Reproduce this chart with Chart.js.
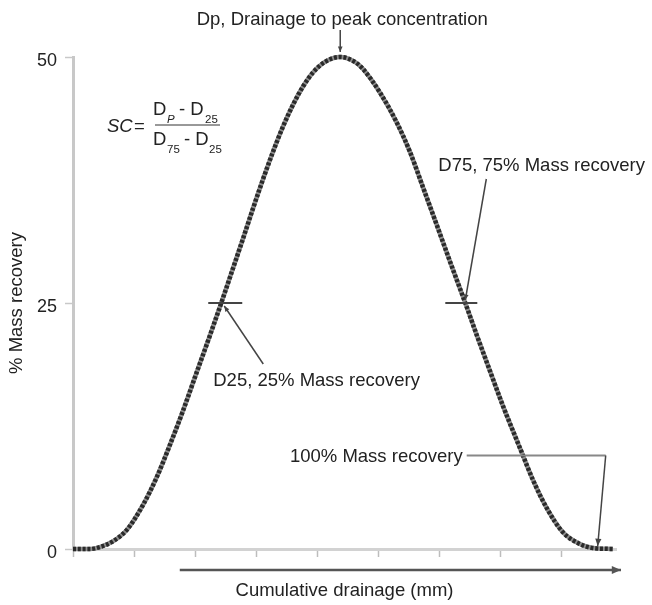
<!DOCTYPE html>
<html lang="en">
<head>
    <meta charset="UTF-8"/>
    <title>Mass Recovery Curve</title>
    <script src="https://cdn.jsdelivr.net/npm/chart.js"></script>
    <style>
        html, body {
            margin: 0;
            padding: 0;
            background-color: #fff;
        }
        .chart-box {
            width: 652px;
            height: 605px;
        }
    </style>
</head>
<body>
<div class="chart-box">
    <canvas id="massChart" width="652" height="605"></canvas>
</div>

<script>
    // cumulative drainage in tick units (one unit per x tick) and % mass recovery
    const drainage = [0.00, 0.28, 0.44, 0.66, 0.89, 1.15, 1.38, 1.59, 1.80, 2.03,
                      2.25, 2.43, 2.61, 2.79, 2.95, 3.11, 3.28, 3.44, 3.61, 3.77,
                      3.93, 4.13, 4.38, 4.62, 4.75, 5.03, 5.31, 5.52, 5.74, 5.97,
                      6.18, 6.43, 6.62, 6.84, 7.05, 7.33, 7.54, 7.77, 8.03, 8.31,
                      8.52, 8.85];
    const massRecovery = [0, 0, 0.2, 0.8, 2.0, 4.5, 7.4, 10.6, 14.0, 18.0,
                          21.8, 25.0, 28.3, 31.6, 34.6, 37.5, 40.4, 42.9, 45.2, 47.0,
                          48.4, 49.5, 50.0, 49.5, 48.8, 46.4, 43.3, 40.4, 36.7, 32.8,
                          29.2, 25.0, 21.7, 18.0, 14.5, 10.2, 7.0, 4.1, 1.7, 0.5,
                          0.1, 0];
    const yTickValues = [0, 25, 50];

    // annotation anchors (data units)
    const peakX = 4.38;   // Dp
    const d25X = 2.43;
    const d75X = 6.43;
    const fullX = 8.6;    // 100% recovery
    const fullLevel = 9.5;

    const FONT = '"Liberation Sans", Arial, Helvetica, sans-serif';
    const TEXT = '#222';

    const points = drainage.map((d, i) => ({x: d, y: massRecovery[i]}));

    function arrow(ctx, x1, y1, x2, y2, size) {
        ctx.beginPath();
        ctx.moveTo(x1, y1);
        ctx.lineTo(x2, y2);
        ctx.stroke();
        const a = Math.atan2(y2 - y1, x2 - x1);
        ctx.beginPath();
        ctx.moveTo(x2, y2);
        ctx.lineTo(x2 - size * Math.cos(a - 0.4), y2 - size * Math.sin(a - 0.4));
        ctx.lineTo(x2 - size * Math.cos(a + 0.4), y2 - size * Math.sin(a + 0.4));
        ctx.closePath();
        ctx.fill();
    }

    const annotations = {
        id: 'annotations',
        afterDraw(chart) {
            const ctx = chart.ctx;
            const xs = chart.scales.x, ys = chart.scales.y;
            const px = v => xs.getPixelForValue(v);
            const py = v => ys.getPixelForValue(v);
            const area = chart.chartArea;

            ctx.save();
            ctx.fillStyle = TEXT;
            ctx.textBaseline = 'middle';
            ctx.font = '18.5px ' + FONT;

            // peak label + arrow
            ctx.textAlign = 'center';
            ctx.fillText('Dp, Drainage to peak concentration', px(peakX) + 2, 20);
            ctx.strokeStyle = '#444';
            ctx.fillStyle = '#444';
            ctx.lineWidth = 1.5;
            arrow(ctx, px(peakX), 30, px(peakX), py(50) - 5, 6);

            // D25 marker and pointer
            ctx.lineWidth = 2;
            ctx.beginPath();
            ctx.moveTo(px(d25X) - 13, py(25));
            ctx.lineTo(px(d25X) + 21, py(25));
            ctx.stroke();
            ctx.lineWidth = 1.5;
            arrow(ctx, px(d25X) + 42, py(25) + 61, px(d25X) + 3, py(25) + 3, 6);

            // D75 marker and pointer
            ctx.lineWidth = 2;
            ctx.beginPath();
            ctx.moveTo(px(d75X) - 20, py(25));
            ctx.lineTo(px(d75X) + 12, py(25));
            ctx.stroke();
            ctx.lineWidth = 1.5;
            arrow(ctx, px(d75X) + 21, py(25) - 124, px(d75X), py(25) - 3, 6);

            // 100% recovery pointer
            ctx.strokeStyle = '#888';
            ctx.lineWidth = 2;
            ctx.beginPath();
            ctx.moveTo(px(fullX) - 131, py(fullLevel));
            ctx.lineTo(px(fullX) + 8, py(fullLevel));
            ctx.stroke();
            ctx.strokeStyle = '#444';
            ctx.lineWidth = 1.5;
            arrow(ctx, px(fullX) + 8, py(fullLevel), px(fullX), py(0) - 3, 8);

            // arrow under the x axis
            ctx.strokeStyle = '#555';
            ctx.fillStyle = '#555';
            ctx.lineWidth = 2.5;
            arrow(ctx, px(1.75), area.bottom + 21, area.right + 5, area.bottom + 21, 10);

            // texts
            ctx.fillStyle = TEXT;
            ctx.textAlign = 'left';
            ctx.fillText('D25, 25% Mass recovery', px(d25X) - 8, py(25) + 78);
            ctx.fillText('D75, 75% Mass recovery', px(d75X) - 27, py(25) - 137);
            ctx.textAlign = 'right';
            ctx.fillText('100% Mass recovery', px(fullX) - 135, py(fullLevel) + 1);

            // SC formula
            const fx = area.left, fy = area.top;
            ctx.textAlign = 'left';
            ctx.textBaseline = 'alphabetic';
            ctx.font = 'italic 18.5px ' + FONT;
            ctx.fillText('SC', fx + 34, fy + 75);
            ctx.font = '18.5px ' + FONT;
            ctx.fillText('=', fx + 61, fy + 75);
            ctx.fillText('D', fx + 80, fy + 58);
            ctx.fillText('- D', fx + 106, fy + 58);
            ctx.fillText('D', fx + 80, fy + 88);
            ctx.fillText('- D', fx + 111, fy + 88);
            ctx.font = '11.5px ' + FONT;
            ctx.fillText('25', fx + 132, fy + 66);
            ctx.fillText('75', fx + 94, fy + 96);
            ctx.fillText('25', fx + 136, fy + 96);
            ctx.font = 'italic 11.5px ' + FONT;
            ctx.fillText('P', fx + 94, fy + 66);
            ctx.strokeStyle = '#333';
            ctx.lineWidth = 1;
            ctx.beginPath();
            ctx.moveTo(fx + 82, fy + 68);
            ctx.lineTo(fx + 147, fy + 68);
            ctx.stroke();

            ctx.restore();
        }
    };

    const ctxMass = document.getElementById('massChart').getContext('2d');

    new Chart(ctxMass, {
        type: 'line',
        data: {
            datasets: [{
                // dark dots on top
                data: points,
                order: 0,
                borderColor: '#2a2a2a',
                borderWidth: 4.5,
                borderDash: [3, 1.8],
                pointRadius: 0,
                cubicInterpolationMode: 'monotone',
                clip: false
            }, {
                // softer line underneath
                data: points,
                order: 1,
                borderColor: '#8e8e8e',
                borderWidth: 4.5,
                pointRadius: 0,
                cubicInterpolationMode: 'monotone',
                clip: false
            }]
        },
        options: {
            responsive: false,
            animation: false,
            layout: { padding: { top: 57, right: 36, left: 0, bottom: 0 } },
            plugins: {
                legend: { display: false },
                tooltip: { enabled: false }
            },
            scales: {
                x: {
                    type: 'linear',
                    min: 0,
                    max: 8.9,
                    afterFit: s => { s.height = 56; },
                    afterBuildTicks: s => { s.ticks = s.ticks.filter(t => Number.isInteger(t.value)); },
                    border: { color: '#d2d2d2', width: 3 },
                    grid: { drawOnChartArea: false, tickLength: 8, tickColor: '#bdbdbd', tickWidth: 1.5 },
                    ticks: { stepSize: 1, display: false },
                    title: {
                        display: true,
                        text: 'Cumulative drainage (mm)',
                        color: TEXT,
                        font: { family: FONT, size: 18.5 },
                        padding: { top: 0, bottom: 3 }
                    }
                },
                y: {
                    min: 0,
                    max: 50,
                    afterFit: s => { s.width = 73; },
                    afterBuildTicks: s => { s.ticks = yTickValues.map(v => ({value: v})); },
                    border: { color: '#c8c8c8', width: 3 },
                    grid: { drawOnChartArea: false, tickLength: 8, tickColor: '#c8c8c8', tickWidth: 1.5 },
                    ticks: {
                        color: TEXT,
                        font: { family: FONT, size: 18 },
                        padding: 8,
                        labelOffset: 4
                    },
                    title: {
                        display: true,
                        text: '% Mass recovery',
                        color: TEXT,
                        font: { family: FONT, size: 18.5 },
                        padding: { top: 6, bottom: 0 }
                    }
                }
            }
        },
        plugins: [annotations]
    });
</script>
</body>
</html>
